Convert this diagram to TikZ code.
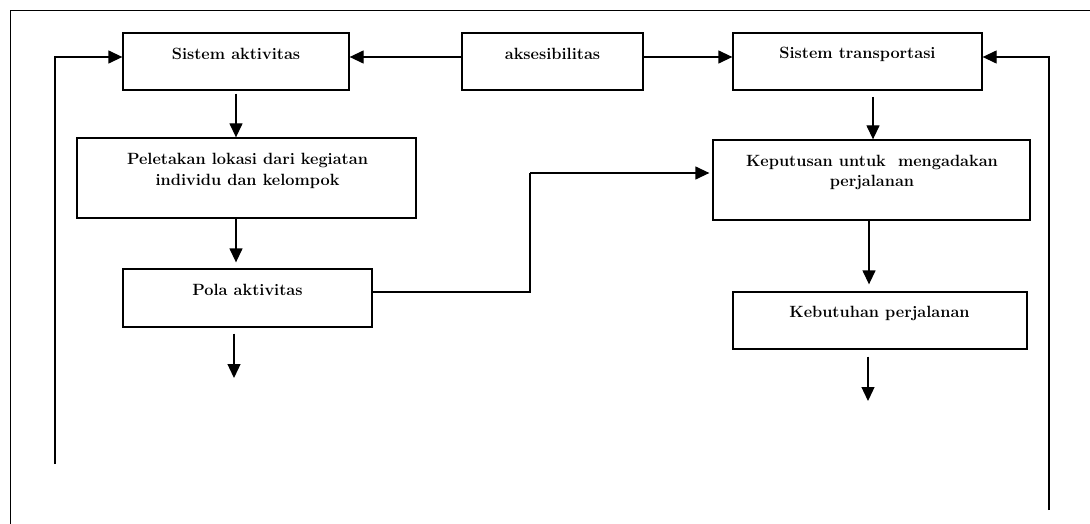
\documentclass[tikz,border=0pt]{standalone}
\usepackage{fontspec}
\usetikzlibrary{arrows.meta}
\begin{document}
\begin{tikzpicture}[x=1pt,y=-1pt,
  box/.style={draw, line width=1.3pt, inner sep=0pt, minimum height=57pt},
  tallbox/.style={box, minimum height=80pt},
  txt/.style={font=\fontsize{16.3}{20.5}\selectfont\bfseries, align=center, inner sep=0pt},
  arr/.style={line width=1.3pt, -{Triangle[length=14pt,width=13pt]}},
  ln/.style={line width=1.3pt},
  frameline/.style={line width=1pt}]
\useasboundingbox (0,0) rectangle (1090,524);
% frame
\draw[frameline] (10,524) -- (10,11) -- (1090,11);
% boxes
\node[box, minimum width=226pt] (sa) at (236,61.5) {};
\node[box, minimum width=181pt] (ak) at (552.5,61.5) {};
\node[box, minimum width=249pt] (st) at (857.5,61.5) {};
\node[tallbox, minimum width=339pt] (pl) at (246.5,178) {};
\node[box, minimum width=249pt, minimum height=58pt] (pa) at (247.5,298) {};
\node[tallbox, minimum width=317pt] (kp) at (871.5,180) {};
\node[box, minimum width=294pt] (kb) at (880,320.5) {};
% texts
\node[txt] (tsa) at (236,54) {Sistem aktivitas};
\node[txt] (tak) at (552.5,54) {aksesibilitas};
\node[txt] (tst) at (857.5,54) {Sistem transportasi};
\node[txt] (tpl) at (247.5,171) {Peletakan lokasi dari kegiatan\\individu dan kelompok};
\node[txt] (tpa) at (247.5,290) {Pola aktivitas};
\node[txt] (tkp) at (872,172.5) {Keputusan untuk\ \ mengadakan\\perjalanan};
\node[txt] (tkb) at (879.5,313) {Kebutuhan perjalanan};
% coordinates
\coordinate (lt) at (55,57);
\coordinate (lb) at (55,464);
\coordinate (rt) at (1049,57);
\coordinate (rb) at (1049,510);
\coordinate (m1) at (530,292);
\coordinate (m2) at (530,173);
\coordinate (stb) at (873,97);
\coordinate (kpb) at (869,220);
\coordinate (paout) at (234,378);
\coordinate (kbout) at (868,401);
% connectors
\draw[arr] (lb) -- (lt) -- (lt -| sa.west);
\draw[arr] (rb) -- (rt) -- (rt -| st.east);
\draw[arr] (lt -| ak.west) -- (lt -| sa.east);
\draw[arr] (lt -| ak.east) -- (lt -| st.west);
\draw[arr] ([yshift=-3pt]sa.south) -- (sa.south |- pl.north);
\draw[arr] (pl.south -| sa.south) -- ([yshift=6pt]pa.north -| sa.south);
\draw[arr] ([yshift=-6pt]pa.south -| paout) -- (paout);
\draw[ln] (pa.east |- m1) -- (m1) -- (m2);
\draw[arr] (m2) -- ([xshift=-3pt]m2 -| kp.west);
\draw[arr] (stb) -- (stb |- kp.north);
\draw[arr] (kpb) -- ([yshift=7pt]kpb |- kb.north);
\draw[arr] ([yshift=-7pt]kb.south -| kbout) -- (kbout);
\end{tikzpicture}
\end{document}
